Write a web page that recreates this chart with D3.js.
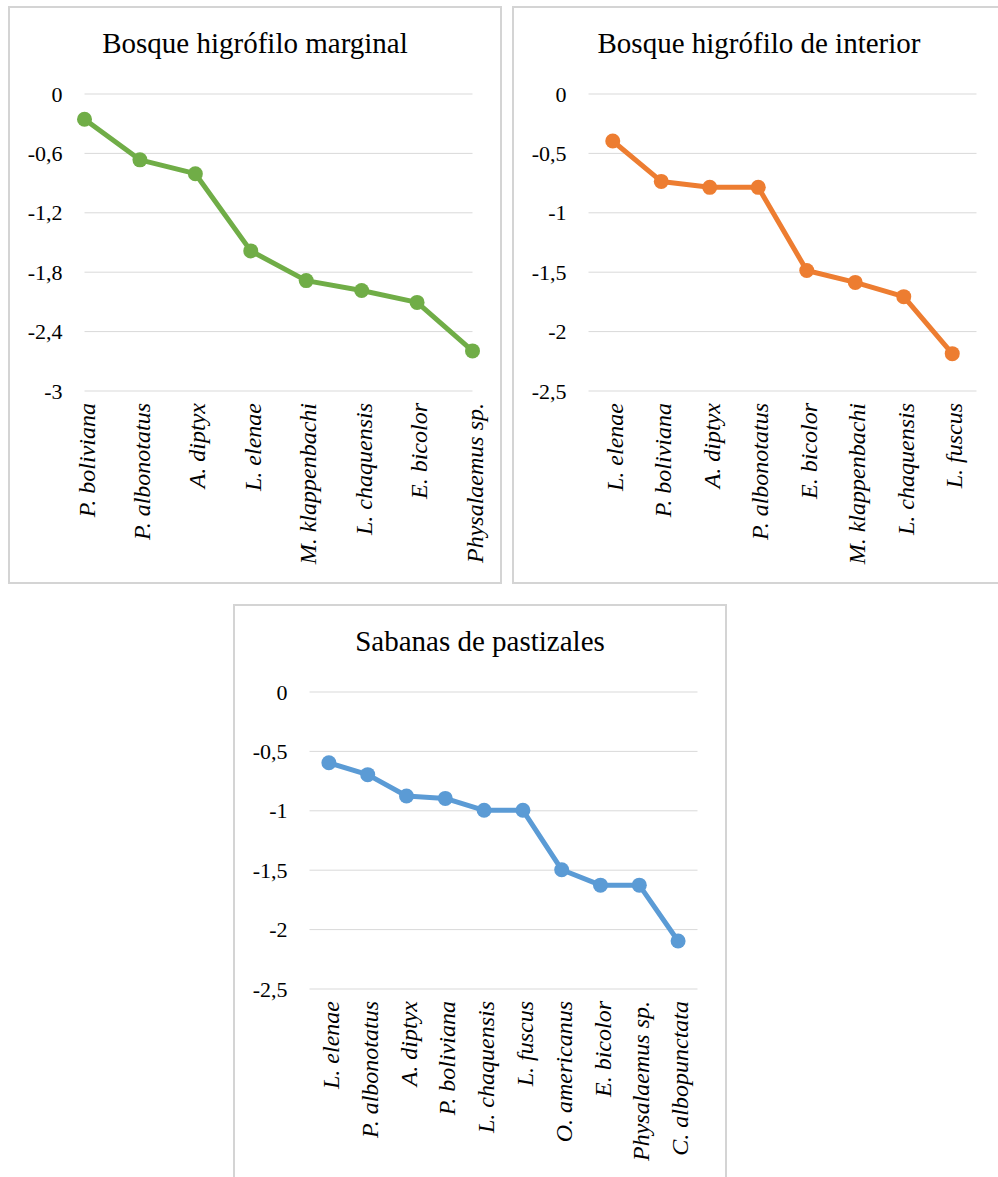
<!DOCTYPE html>
<html>
<head>
<meta charset="utf-8">
<script src="https://cdn.jsdelivr.net/npm/d3@7/dist/d3.min.js"></script>
<style>
  html, body { margin: 0; padding: 0; background: #fff; font-family: 'Liberation Serif', serif; }
  #wrap { position: relative; width: 998px; height: 1177px; overflow: hidden; }
  svg { display: block; position: absolute; left: 0; top: 0; }
  .lbl { position: absolute; white-space: nowrap; line-height: 1; color: #000; }
</style>
</head>
<body>
<div id="wrap">
<svg id="chart" width="998" height="1177"></svg>
</div>
<script>
// ---- Data ----
const title1 = "Bosque higrófilo marginal";
const cats1 = ["P. boliviana", "P. albonotatus", "A. diptyx", "L. elenae", "M. klappenbachi", "L. chaquensis", "E. bicolor", "Physalaemus sp."];
const vals1 = [-0.26, -0.67, -0.81, -1.59, -1.89, -1.99, -2.11, -2.6];
const ticks1 = [0, -0.6, -1.2, -1.8, -2.4, -3];

const title2 = "Bosque higrófilo de interior";
const cats2 = ["L. elenae", "P. boliviana", "A. diptyx", "P. albonotatus", "E. bicolor", "M. klappenbachi", "L. chaquensis", "L. fuscus"];
const vals2 = [-0.40, -0.74, -0.79, -0.79, -1.49, -1.59, -1.71, -2.19];
const ticks2 = [0, -0.5, -1, -1.5, -2, -2.5];

const title3 = "Sabanas de pastizales";
const cats3 = ["L. elenae", "P. albonotatus", "A. diptyx", "P. boliviana", "L. chaquensis", "L. fuscus", "O. americanus", "E. bicolor", "Physalaemus sp.", "C. albopunctata"];
const vals3 = [-0.60, -0.70, -0.88, -0.90, -1.00, -1.00, -1.50, -1.63, -1.63, -2.10];
const ticks3 = [0, -0.5, -1, -1.5, -2, -2.5];

const colors = ["#70AD47", "#ED7D31", "#5B9BD5"];

// ---- Layout ----
const FONT = "'Liberation Serif', 'Times New Roman', serif";
const svg = d3.select("#chart");
const wrap = d3.select("#wrap");
const boxW = 492, boxH = 576;
const plotL = 75.5, plotR = 463.5, plotT = 86.5, plotB = 383.5;

function fmt(v) { return String(v).replace(".", ","); }

function drawChart(ox, oy, title, cats, vals, ticks, color, onTicks) {
  const g = svg.append("g").attr("transform", `translate(${ox},${oy})`);
  g.append("rect")
    .attr("x", 0).attr("y", 0).attr("width", boxW).attr("height", boxH)
    .attr("fill", "#fff").attr("stroke", "#d4d4d4").attr("stroke-width", 2);

  wrap.append("div").attr("class", "lbl")
    .style("font-family", FONT)
    .style("left", ox + "px").style("width", boxW + "px")
    .style("top", (oy + 46.5 - 0.8375 * 29) + "px")
    .style("text-align", "center").style("font-size", "29px")
    .text(title);

  const y = d3.scaleLinear().domain([d3.min(ticks), d3.max(ticks)]).range([plotB, plotT]);
  let x;
  if (onTicks) {
    x = d3.scalePoint().domain(cats).range([plotL, plotR]).padding(0);
  } else {
    const b = d3.scaleBand().domain(cats).range([plotL, plotR]).padding(0);
    x = c => b(c) + b.bandwidth() / 2;
  }

  const yAxis = d3.axisLeft(y).tickValues(ticks).tickSize(-(plotR - plotL)).tickFormat("");
  const ya = g.append("g").attr("transform", `translate(${plotL},0)`).call(yAxis);
  ya.select(".domain").remove();
  ya.selectAll(".tick line").attr("stroke", "#d9d9d9").attr("stroke-width", 1);
  ya.selectAll(".tick text").remove();

  wrap.selectAll(null).data(ticks).join("div").attr("class", "lbl")
    .style("font-family", FONT)
    .style("left", (ox + plotL - 22 - 80) + "px").style("width", "80px")
    .style("top", t => (oy + y(t) + 1) + "px")
    .style("transform", "translateY(-50%)")
    .style("text-align", "right").style("font-size", "22px")
    .text(fmt);

  wrap.selectAll(null).data(cats).join("div").attr("class", "lbl")
    .style("font-family", FONT)
    .style("left", d => (ox + x(d) + 2) + "px")
    .style("top", (oy + plotB + 12) + "px")
    .style("transform-origin", "0 0")
    .style("transform", "rotate(-90deg) translate(-100%, -50%)")
    .style("font-style", "italic").style("font-size", "24px")
    .text(d => d);

  const data = cats.map((c, i) => ({ c, v: vals[i] }));
  const line = d3.line().x(d => x(d.c)).y(d => y(d.v));
  g.append("path").datum(data)
    .attr("d", line).attr("fill", "none")
    .attr("stroke", color).attr("stroke-width", 5)
    .attr("stroke-linejoin", "round");
  g.append("g").selectAll("circle").data(data).join("circle")
    .attr("cx", d => x(d.c)).attr("cy", d => y(d.v)).attr("r", 7.5)
    .attr("fill", color);
}

drawChart(9, 7, title1, cats1, vals1, ticks1, colors[0], true);
drawChart(513, 7, title2, cats2, vals2, ticks2, colors[1], false);
drawChart(234, 605, title3, cats3, vals3, ticks3, colors[2], false);
</script>
</body>
</html>
